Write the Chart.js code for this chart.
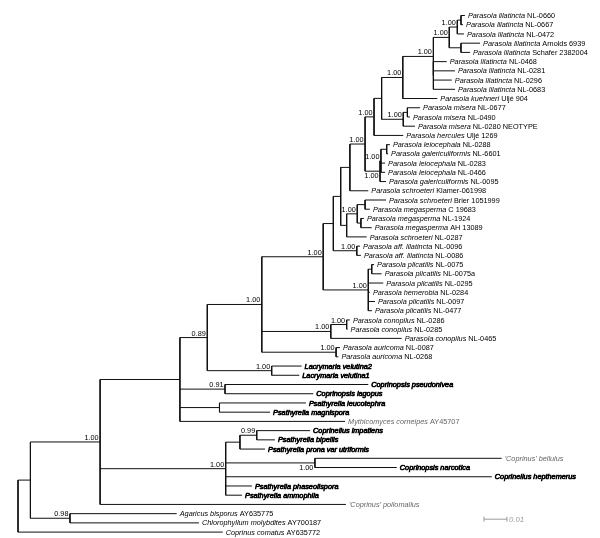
<!DOCTYPE html>
<html><head><meta charset="utf-8">
<script src="https://cdn.jsdelivr.net/npm/chart.js@4/dist/chart.umd.min.js"></script>
<style>html,body{margin:0;padding:0;background:#fff}canvas{display:block}</style>
</head><body>
<canvas id="c" width="600" height="538"></canvas>
<script>
// ---------- data ----------
const leafTaxon = [
 'Parasola lilatincta','Parasola lilatincta','Parasola lilatincta','Parasola lilatincta','Parasola lilatincta',
 'Parasola lilatincta','Parasola lilatincta','Parasola lilatincta','Parasola lilatincta','Parasola kuehneri',
 'Parasola misera','Parasola misera','Parasola misera','Parasola hercules','Parasola leiocephala',
 'Parasola galericuliformis','Parasola leiocephala','Parasola leiocephala','Parasola galericuliformis','Parasola schroeteri',
 'Parasola schroeteri','Parasola megasperma','Parasola megasperma','Parasola megasperma','Parasola schroeteri',
 'Parasola aff. lilatincta','Parasola aff. lilatincta','Parasola plicatilis','Parasola plicatilis','Parasola plicatilis',
 'Parasola hemerobia','Parasola plicatilis','Parasola plicatilis','Parasola conopilus','Parasola conopilus',
 'Parasola conopilus','Parasola auricoma','Parasola auricoma','Lacrymaria velutina2','Lacrymaria velutina1',
 'Coprinopsis pseudonivea','Coprinopsis lagopus','Psathyrella leucotephra','Psathyrella magnispora','Mythicomyces corneipes',
 'Coprinellus impatiens','Psathyrella bipellis','Psathyrella prona var utriformis',"'Coprinus' bellulus",'Coprinopsis narcotica',
 'Coprinellus hepthemerus','Psathyrella phaseolispora','Psathyrella ammophila',"'Coprinus' poliomallus",'Agaricus bisporus',
 'Chlorophyllum molybdites','Coprinus comatus'
];
const leafVoucher = [
 'NL-0660','NL-0667','NL-0472','Arnolds 6939','Schafer 2382004',
 'NL-0468','NL-0281','NL-0296','NL-0683','Uljé 904',
 'NL-0677','NL-0490','NL-0280 NEOTYPE','Uljé 1269','NL-0288',
 'NL-6601','NL-0283','NL-0466','NL-0095','Klamer-061998',
 'Brier 1051999','C 19683','NL-1924','AH 13089','NL-0287',
 'NL-0096','NL-0086','NL-0075','NL-0075a','NL-0295',
 'NL-0284','NL-0097','NL-0477','NL-0286','NL-0285',
 'NL-0465','NL-0087','NL-0268','','',
 '','','','','AY45707',
 '','','','','',
 '','','','','AY635775',
 'AY700187','AY635772'
];
const leafParent = [
 'AA','AA','CC','BB','BB','ZZ','ZZ','ZZ','ZZ','X',
 'U','U','V','T','HH','HH','II','II','FF','KK',
 'NN','NN','OO','OO','QQ','RR','RR','Q','Q','P',
 'P','P','P','N','N','M','Aur','Aur','Lac','Lac',
 'Copr','Copr','Psath','Psath','E','G','G','I','H','H',
 'F','F','F','B','AgClade','AgClade','root'
];
// cumulative distance from the root (substitutions/site)
const leafTip = [
 0.1943,0.1935,0.1939,0.2009,0.1965,0.1864,0.1900,0.1886,0.1900,0.1823,
 0.1748,0.1704,0.1726,0.1675,0.1617,0.1609,0.1596,0.1596,0.1600,0.1523,
 0.1600,0.1530,0.1504,0.1538,0.1516,0.1487,0.1491,0.1548,0.1581,0.1588,
 0.1530,0.1552,0.1539,0.1443,0.1433,0.1668,0.1400,0.1393,0.1233,0.1223,
 0.1523,0.1284,0.1252,0.1096,0.1422,0.1270,0.1117,0.1074,0.2103,0.1647,
 0.2060,0.1017,0.0974,0.1426,0.0690,0.0787,0.0890
];
const nodeIds = ['root','A','B','AgClade','E','F','C','Copr','Psath','J','Lac','L','M','Aur','N','SS','P','LL','RR','KK','QQ','JJ','PP','NN','OO','T','FF','W','X','V','U','Y','ZZ','DD','CC','AA','BB','II','HH','Q','I','G','H'];
const nodeParent = [null,'root','A','A','B','B','E','E','E','C','C','J','J','J','M','L','L','SS','SS','LL','LL','KK','QQ','PP','PP','JJ','JJ','T','W','W','V','X','Y','Y','DD','CC','DD','FF','II','P','F','I','F'];
const nodeDepth = [0,0.0054,0.0357,0.0226,0.0704,0.0903,0.0823,0.0900,0.0876,0.1060,0.1103,0.1327,0.1360,0.1383,0.1429,0.1371,0.1523,0.1403,0.1473,0.1443,0.1429,0.1509,0.1475,0.1509,0.1491,0.1548,0.1574,0.1581,0.1673,0.1675,0.1693,0.1806,0.1806,0.1875,0.1910,0.1926,0.1926,0.1578,0.1603,0.1538,0.0965,0.1038,0.1291];
const nodeSupport = [null,null,'1.00','0.98',null,'1.00','0.89','0.91',null,'1.00','1.00','1.00','1.00','1.00','1.00',null,'1.00',null,'1.00',null,null,'1.00','1.00',null,null,'1.00','1.00',null,'1.00','1.00',null,'1.00',null,'1.00','1.00',null,null,'1.00',null,null,null,'0.99','1.00'];
const supportBelowNodes = ['FF','H'];
const highlightedTaxa = ['Lacrymaria velutina2','Lacrymaria velutina1','Coprinopsis pseudonivea','Coprinopsis lagopus',
 'Psathyrella leucotephra','Psathyrella magnispora','Coprinellus impatiens','Psathyrella bipellis',
 'Psathyrella prona var utriformis','Coprinopsis narcotica','Coprinellus hepthemerus','Psathyrella phaseolispora','Psathyrella ammophila'];
const greyTaxa = ["'Coprinus' bellulus","'Coprinus' poliomallus",'Mythicomyces corneipes'];
const scaleBarLength = 0.01;
const scaleBarLabel = '0.01';

// ---------- layout of the tree (rows = leaf order) ----------
const idx = {}; nodeIds.forEach((id,i)=>idx[id]=i);
const children = nodeIds.map(()=>[]);
leafParent.forEach((p,i)=>children[idx[p]].push({leaf:true,i}));
nodeParent.forEach((p,i)=>{ if(p!==null) children[idx[p]].push({leaf:false,i}); });
const nodeY = new Array(nodeIds.length);
const nodeSpan = new Array(nodeIds.length);
function yOf(k){
  if (nodeY[k]!==undefined) return nodeY[k];
  const ys = children[k].map(c=>c.leaf ? c.i : yOf(c.i));
  const lo = Math.min(...ys), hi = Math.max(...ys);
  nodeSpan[k] = [lo,hi];
  nodeY[k] = (lo+hi)/2;
  return nodeY[k];
}
nodeIds.forEach((_,k)=>yOf(k));

const pts = [];
const gap = {x:null,y:null};
leafTip.forEach((t,i)=>{ pts.push({x:nodeDepth[idx[leafParent[i]]],y:i},{x:t,y:i},gap); });
nodeIds.forEach((id,k)=>{
  if (nodeParent[k]!==null) pts.push({x:nodeDepth[idx[nodeParent[k]]],y:nodeY[k]},{x:nodeDepth[k],y:nodeY[k]},gap);
  pts.push({x:nodeDepth[k],y:nodeSpan[k][0]},{x:nodeDepth[k],y:nodeSpan[k][1]},gap);
});

const SB_X = 0.2026, SB_ROW = 54.6;
const sbPts = [{x:SB_X,y:SB_ROW},{x:SB_X+scaleBarLength,y:SB_ROW}];

const ROW0 = 15.5, ROWH = 9.225, PXU = 2300, ROOTPX = 18;
const FONT = '"Liberation Sans", Arial, Helvetica, sans-serif';
const FS = 7.3;

const treeLabels = {
  id:'treeLabels',
  afterDatasetsDraw(chart){
    const {ctx} = chart; const xs = chart.scales.x, ys = chart.scales.y;
    ctx.save();
    ctx.textAlign='left'; ctx.textBaseline='alphabetic';
    leafTaxon.forEach((t,i)=>{
      const px = xs.getPixelForValue(leafTip[i]) + 3;
      const py = ys.getPixelForValue(i) + 2.6;
      const col = greyTaxa.includes(t) ? '#666' : '#000';
      ctx.fillStyle = col; ctx.strokeStyle = col;
      ctx.font = `italic ${FS}px ${FONT}`;
      ctx.fillText(t, px, py);
      if (highlightedTaxa.includes(t)) { ctx.lineWidth = 0.65; ctx.strokeText(t, px, py); }
      const w = ctx.measureText(t + ' ').width;
      if (leafVoucher[i]) { ctx.font = `${FS}px ${FONT}`; ctx.fillText(leafVoucher[i], px + w, py); }
    });
    ctx.fillStyle='#000'; ctx.textAlign='right';
    ctx.font = `${FS}px ${FONT}`;
    nodeIds.forEach((id,k)=>{
      if (!nodeSupport[k]) return;
      const px = xs.getPixelForValue(nodeDepth[k]) - 1.5;
      const py = ys.getPixelForValue(nodeY[k]);
      if (supportBelowNodes.includes(id)) ctx.fillText(nodeSupport[k], px, py + 7.2);
      else ctx.fillText(nodeSupport[k], px, py - 2);
    });
    // scale bar label
    ctx.textAlign='left'; ctx.fillStyle='#999';
    ctx.font = `italic ${FS+0.5}px ${FONT}`;
    ctx.fillText(scaleBarLabel, xs.getPixelForValue(SB_X+scaleBarLength)+2, ys.getPixelForValue(SB_ROW)+3);
    // scale bar end ticks
    ctx.strokeStyle='#999'; ctx.lineWidth=1;
    [SB_X, SB_X+scaleBarLength].forEach(v=>{
      const x = xs.getPixelForValue(v), y = ys.getPixelForValue(SB_ROW);
      ctx.beginPath(); ctx.moveTo(x, y-2.5); ctx.lineTo(x, y+2.5); ctx.stroke();
    });
    ctx.restore();
  }
};

new Chart(document.getElementById('c'), {
  type:'scatter',
  data:{datasets:[
    {label:'branches', data:pts, showLine:true, spanGaps:false, borderColor:'#111', borderWidth:1, pointRadius:0, tension:0},
    {label:'scale', data:sbPts, showLine:true, borderColor:'#999', borderWidth:1, pointRadius:0}
  ]},
  options:{
    responsive:false, animation:false, devicePixelRatio:1,
    layout:{padding:0},
    plugins:{legend:{display:false}, tooltip:{enabled:false}},
    scales:{
      x:{type:'linear', display:false, min:-ROOTPX/PXU, max:(600-ROOTPX)/PXU},
      y:{type:'linear', display:false, reverse:true, min:-ROW0/ROWH, max:(538-ROW0)/ROWH}
    }
  },
  plugins:[treeLabels]
});
</script>
</body></html>
